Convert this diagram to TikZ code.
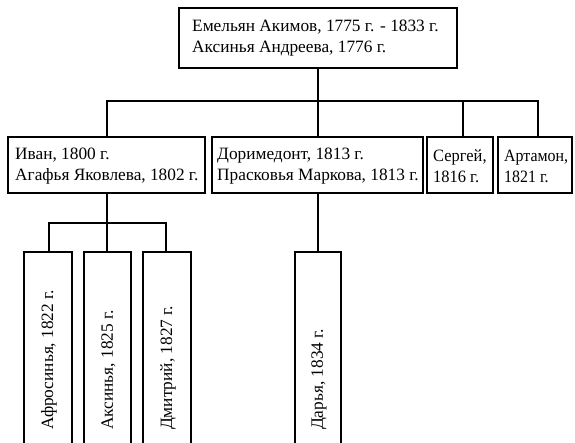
\documentclass[tikz,border=0pt]{standalone}
\usepackage{fontspec}
\setmainfont{Liberation Serif}
\begin{document}
\begin{tikzpicture}[x=1pt,y=-1pt,
  thin box/.style={draw,line width=1.2pt,anchor=north west,inner sep=0pt,outer sep=0pt},
  thick box/.style={draw,line width=2.2pt,anchor=north west,inner sep=0pt,outer sep=0pt},
  txt/.style={anchor=west,align=left,inner sep=0pt,font=\fontsize{17.3}{21}\selectfont},
  vtxt/.style={anchor=west,rotate=90,inner sep=0pt,font=\fontsize{17.3}{21}\selectfont},
  link/.style={line width=1.2pt}]
\useasboundingbox (0,0) rectangle (575,443);
\clip (0,0) rectangle (575,443);
% top
\node[thick box,minimum width=278pt,minimum height=60pt] (top) at (179,8) {};
\node[txt] (toptxt) at (192,38) {Емельян Акимов, 1775 г. - 1833 г.\\Аксинья Андреева, 1776 г.};
% level 2
\node[thick box,minimum width=197pt,minimum height=56pt] (ivan) at (8,137) {};
\node[txt] (ivantxt) at (15,166) {Иван, 1800 г.\\Агафья Яковлева, 1802 г.};
\node[thin box,minimum width=211pt,minimum height=56pt] (dor) at (212,137) {};
\node[txt] (dortxt) at (217,166) {Доримедонт, 1813 г.\\Прасковья Маркова, 1813 г.};
\node[thin box,minimum width=66pt,minimum height=56pt] (ser) at (427,137) {};
\node[txt,xscale=0.95,transform shape] (sertxt) at (433,166) {Сергей,\\1816 г.};
\node[thin box,minimum width=74pt,minimum height=56pt] (art) at (498,137) {};
\node[txt,xscale=0.92,transform shape] (arttxt) at (504,166) {Артамон,\\1821 г.};
% level 3
\node[thin box,minimum width=48pt,minimum height=220pt] (afr) at (24,252) {};
\node[vtxt] (afrtxt) at (49,430) {Афросинья, 1822 г.};
\node[thick box,minimum width=47pt,minimum height=220pt] (aks) at (84,252) {};
\node[vtxt] (akstxt) at (108.5,430) {Аксинья, 1825 г.};
\node[thin box,minimum width=48pt,minimum height=220pt] (dmi) at (143,252) {};
\node[vtxt] (dmitxt) at (168,430) {Дмитрий, 1827 г.};
\node[thin box,minimum width=46pt,minimum height=220pt] (dar) at (295,252) {};
\node[vtxt] (dartxt) at (319,430) {Дарья, 1834 г.};
% connectors
\coordinate (bus1) at (318,101);
\coordinate (busL) at (107,101);
\coordinate (busR) at (538,101);
\draw[link] (top.south) -- (bus1);
\draw[link] (ivan.north -| busL) -- (busL) -- (busR) -- (art.north -| busR);
\draw[link] (dor.north -| bus1) -- (bus1);
\draw[link] (ser.north -| 463,0) -- (463,101);
\coordinate (bus2) at (107,223);
\coordinate (bus2L) at (49,223);
\coordinate (bus2R) at (166,223);
\draw[link] (ivan.south -| bus2) -- (bus2);
\draw[link] (afr.north -| bus2L) -- (bus2L) -- (bus2R) -- (dmi.north -| bus2R);
\draw[link] (bus2) -- (aks.north -| bus2);
\draw[link] (dor.south -| bus1) -- (dar.north -| bus1);
\end{tikzpicture}
\end{document}
